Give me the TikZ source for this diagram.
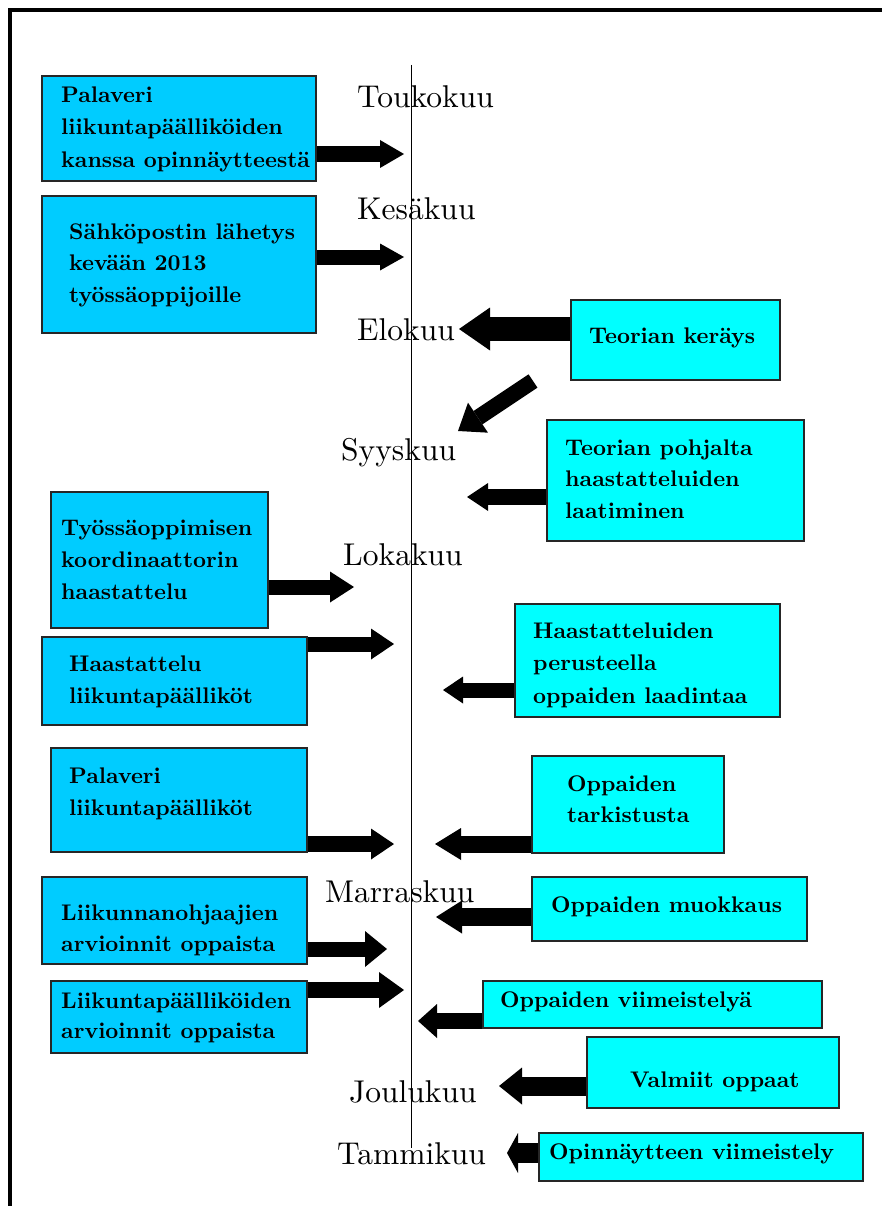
\documentclass[tikz,border=0pt]{standalone}
\usepackage{fontspec}
\usetikzlibrary{arrows.meta,fit}
\definecolor{leftblue}{RGB}{0,204,255}
\definecolor{rightcyan}{RGB}{0,255,255}
\newfontfamily\boxfont{lmroman10-bold.otf}
\newfontfamily\monthfont{lmroman10-regular.otf}
\newcommand\fstrut{\rule{0pt}{16pt}}
\begin{document}
\begin{tikzpicture}[x=1pt,y=-1pt,
 box/.style={draw=black!85, line width=1.5pt, inner sep=0pt, outer sep=0pt},
 lbox/.style={box, fill=leftblue},
 rbox/.style={box, fill=rightcyan},
 btxt/.style={anchor=north west, inner sep=0pt, align=left, font=\boxfont\fontsize{22.6}{#1}\selectfont},
 btxt/.default=32,
 month/.style={anchor=base west, inner sep=0pt, font=\monthfont\fontsize{31.5}{36}\selectfont},
 blockarrow/.style n args={3}{draw=black, line width=#1, -{Triangle[length=#3,width=#2,line width=0pt]}},
]
\useasboundingbox (0,0) rectangle (882,1206);
\clip (0,0) rectangle (882,1206);
% frame
\draw[line width=4pt] (950,10.5) -- (10,10.5) -- (10,1300);

% boxes (positions)
\node[lbox, fit={(42,76)(316,181)}] (L1) {};
\node[lbox, fit={(42,196)(316,333)}] (L2) {};
\node[lbox, fit={(51,492)(268,628)}] (L3) {};
\node[lbox, fit={(42,637)(307,725)}] (L4) {};
\node[lbox, fit={(51,748)(307,852)}] (L5) {};
\node[lbox, fit={(42,877)(307,964)}] (L6) {};
\node[lbox, fit={(51,981)(307,1053)}] (L7) {};
\node[rbox, fit={(571,300)(780,380)}] (R1) {};
\node[rbox, fit={(547,420)(804,541)}] (R2) {};
\node[rbox, fit={(515,604)(780,717)}] (R3) {};
\node[rbox, fit={(532,756)(724,853)}] (R4) {};
\node[rbox, fit={(532,877)(807,941)}] (R5) {};
\node[rbox, fit={(483,981)(822,1028)}] (R6) {};
\node[rbox, fit={(587,1037)(839,1108)}] (R7) {};
\node[rbox, fit={(539,1133)(863,1181)}] (R8) {};

% arrow tips
\coordinate (a1) at (404,154);
\coordinate (a2) at (404,257);
\coordinate (a3) at (354,587);
\coordinate (a4) at (394,644);
\coordinate (a5) at (394,844);
\coordinate (a6) at (387,949);
\coordinate (a7) at (404,990);
\coordinate (b1) at (459,329);
\coordinate (dtail) at (533,381);
\coordinate (b2) at (458,431);
\coordinate (b3) at (467,497);
\coordinate (b4) at (443,690);
\coordinate (b5) at (435,844);
\coordinate (b6) at (436,917);
\coordinate (b7) at (418,1021);
\coordinate (b8) at (499,1086);
\coordinate (b9) at (507,1153);

\draw[blockarrow={16pt}{28pt}{24pt}] (L1.east |- a1) -- (a1);
\draw[blockarrow={15pt}{27pt}{24pt}] (L2.east |- a2) -- (a2);
\draw[blockarrow={15pt}{31pt}{24pt}] (L3.east |- a3) -- (a3);
\draw[blockarrow={15pt}{31pt}{23pt}] (L4.east |- a4) -- (a4);
\draw[blockarrow={16pt}{31pt}{23pt}] (L5.east |- a5) -- (a5);
\draw[blockarrow={15pt}{36pt}{22pt}] (L6.east |- a6) -- (a6);
\draw[blockarrow={16pt}{36pt}{25pt}] (L7.east |- a7) -- (a7);
\draw[blockarrow={24pt}{43pt}{31pt}] (R1.west |- b1) -- (b1);
\draw[blockarrow={16pt}{36pt}{24pt}] (dtail) -- (b2);
\draw[blockarrow={16pt}{28pt}{21pt}] (R2.west |- b3) -- (b3);
\draw[blockarrow={15pt}{27pt}{20pt}] (R3.west |- b4) -- (b4);
\draw[blockarrow={17pt}{32pt}{26pt}] (R4.west |- b5) -- (b5);
\draw[blockarrow={18pt}{33pt}{26pt}] (R5.west |- b6) -- (b6);
\draw[blockarrow={16pt}{34pt}{19pt}] (R6.west |- b7) -- (b7);
\draw[blockarrow={19pt}{37pt}{23pt}] (R7.west |- b8) -- (b8);
\draw[blockarrow={20pt}{40pt}{11pt}] (R8.west |- b9) -- (b9);

% redraw box borders over arrow shafts
\foreach \b in {L1,L2,L3,L4,L5,L6,L7,R1,R2,R3,R4,R5,R6,R7,R8}
  \draw[draw=black!85, line width=1.5pt] (\b.south west) rectangle (\b.north east);

% box texts
\node[btxt=32.5] (L1t) at (61,86) {\fstrut Palaveri\\liikuntapäälliköiden\\kanssa opinnäytteestä};
\node[btxt=31.5] (L2t) at (69,223) {\fstrut Sähköpostin lähetys\\kevään 2013\\työssäoppijoille};
\node[btxt=32] (L3t) at (61,519) {\fstrut Työssäoppimisen\\koordinaattorin\\haastattelu};
\node[btxt=32] (L4t) at (69,655) {\fstrut Haastattelu\\liikuntapäälliköt};
\node[btxt=32] (L5t) at (69,767) {\fstrut Palaveri\\liikuntapäälliköt};
\node[btxt=31] (L6t) at (61,904) {\fstrut Liikunnanohjaajien\\arvioinnit oppaista};
\node[btxt=30] (L7t) at (61,992) {\fstrut Liikuntapäälliköiden\\arvioinnit oppaista};
\node[btxt] (R1t) at (589,327) {\fstrut Teorian keräys};
\node[btxt=31.5] (R2t) at (565,439) {\fstrut Teorian pohjalta\\haastatteluiden\\laatiminen};
\node[btxt=32.5] (R3t) at (533,622) {\fstrut Haastatteluiden\\perusteella\\oppaiden laadintaa};
\node[btxt=31] (R4t) at (567,775) {\fstrut Oppaiden\\tarkistusta};
\node[btxt] (R5t) at (551,896) {\fstrut Oppaiden muokkaus};
\node[btxt] (R6t) at (500,991) {\fstrut Oppaiden viimeistelyä};
\node[btxt] (R7t) at (630,1071) {\fstrut Valmiit oppaat};
\node[btxt] (R8t) at (549,1143) {\fstrut Opinnäytteen viimeistely};

% months
\node[month] (m5) at (357,108) {Toukokuu};
\node[month] (m6) at (357,220) {Kesäkuu};
\node[month] (m8) at (357,340) {Elokuu};
\node[month] (m9) at (341,460) {Syyskuu};
\node[month] (m10) at (343,565) {Lokakuu};
\node[month] (m11) at (325,902) {Marraskuu};
\node[month] (m12) at (349,1102) {Joulukuu};
\node[month] (m1) at (337,1164) {Tammikuu};

% timeline
\coordinate (ltop) at (411.5,65);
\coordinate (lbot) at (411.5,1148);
\draw[line width=1.4pt] (ltop) -- (lbot);
\end{tikzpicture}
\end{document}
